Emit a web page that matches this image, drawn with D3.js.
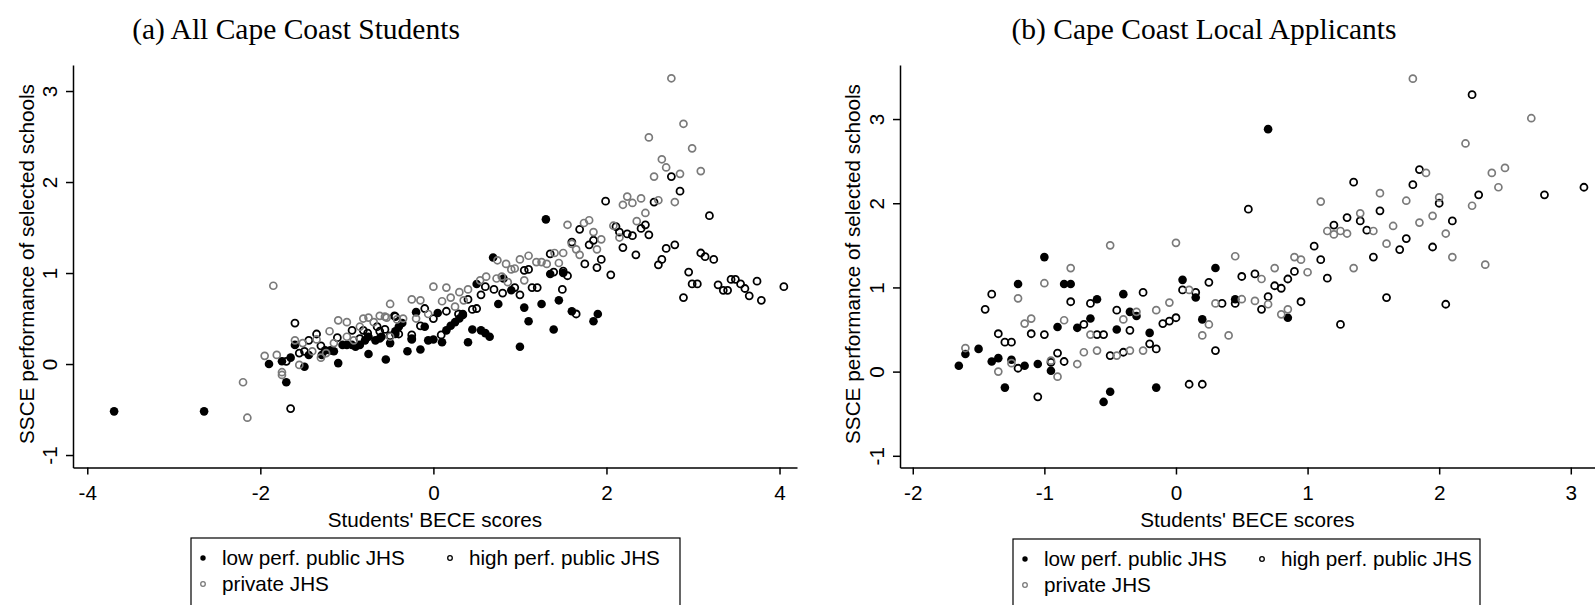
<!DOCTYPE html>
<html><head><meta charset="utf-8">
<script src="https://cdn.jsdelivr.net/npm/d3@7"></script>
<style>body{margin:0;background:#fff}</style>
</head><body>
<svg id="c" width="1595" height="605"></svg>
<script>
// ---------- DATA ----------
const titles = ["(a) All Cape Coast Students", "(b) Cape Coast Local Applicants"];
const xLabel = "Students' BECE scores";
const yLabel = "SSCE performance of selected schools";
const legendLabels = ["low perf. public JHS", "high perf. public JHS", "private JHS"];

const xTicksA = [-4, -2, 0, 2, 4];
const yTicksA = [-1, 0, 1, 2, 3];
const xTicksB = [-2, -1, 0, 1, 2, 3];
const yTicksB = [-1, 0, 1, 2, 3];

// Panel (a): low perf. public JHS
const lowA = [
[-3.69,-0.52],[-2.65,-0.52],[-1.90,0.00],[-1.75,0.03],[-1.70,-0.20],[-1.65,0.07],[-1.60,0.21],
[-1.49,-0.03],[-1.44,0.10],[-1.29,0.10],[-1.25,0.15],[-1.19,0.15],[-1.15,0.14],[-1.10,0.01],
[-1.05,0.21],[-1.00,0.21],[-0.94,0.21],[-0.90,0.19],[-0.85,0.21],[-0.79,0.26],[-0.75,0.30],
[-0.75,0.11],[-0.67,0.26],[-0.62,0.28],[-0.55,0.05],[-0.50,0.23],[-0.44,0.36],[-0.40,0.41],
[1.30,1.59],[0.69,1.17],[1.35,0.99],[1.50,1.00],[0.81,0.94],[0.90,0.81],[0.75,0.66],[1.05,0.62],
[1.25,0.66],[1.45,0.70],[1.10,0.47],[1.39,0.38],[1.00,0.19],[1.85,0.47],[1.90,0.55],[1.60,0.58],
[0.45,0.38],[0.55,0.37],[0.60,0.34],[0.65,0.30],[0.40,0.24],[0.50,0.88],[0.30,0.50],[0.34,0.55],
[0.25,0.46],[0.20,0.42],[0.15,0.37],[0.10,0.24],[0.05,0.56],[0.00,0.27],[-0.06,0.26],[-0.10,0.41],
[-0.15,0.16],[-0.20,0.57],[-0.30,0.14],[-0.25,0.28],[-0.36,0.45],[-0.44,0.33],[-0.60,0.30]
];
// Panel (a): high perf. public JHS
const highA = [
[-1.60,0.45],[-1.65,-0.49],[-1.70,0.03],[-1.55,0.12],[-1.49,0.14],[-1.44,0.26],[-1.35,0.33],
[-1.30,0.20],[-1.11,0.29],[-0.94,0.37],[-0.85,0.28],[-0.81,0.37],[-0.76,0.34],[-0.65,0.41],
[-0.62,0.36],[-0.56,0.38],[-0.44,0.52],
[2.75,2.06],[2.85,1.90],[3.19,1.63],[1.99,1.79],[2.55,1.78],[1.69,1.48],[2.11,1.51],[2.15,1.45],
[2.24,1.43],[2.30,1.41],[2.40,1.49],[2.45,1.53],[2.49,1.42],[1.60,1.34],[1.80,1.31],[1.85,1.36],
[2.19,1.28],[2.34,1.20],[2.79,1.31],[2.69,1.27],[2.64,1.15],[2.60,1.09],[3.09,1.22],[3.14,1.18],
[3.24,1.15],[2.95,1.01],[2.99,0.88],[3.05,0.88],[2.89,0.73],[3.29,0.87],[3.35,0.81],[3.40,0.81],
[3.44,0.93],[3.49,0.93],[3.55,0.88],[3.60,0.83],[3.65,0.75],[3.74,0.91],[3.79,0.70],[4.05,0.85],
[1.75,1.10],[1.94,1.15],[1.89,1.06],[2.05,0.98],[1.35,1.21],[1.39,1.01],[1.50,1.02],[1.55,0.97],
[1.49,0.82],[1.05,1.03],[1.10,1.04],[1.14,0.84],[1.20,0.84],[1.00,0.76],[0.94,0.84],[0.80,0.78],
[0.70,0.82],[0.55,0.76],[0.60,0.85],[0.50,0.61],[0.45,0.60],[0.40,0.71],[0.34,0.54],[0.29,0.55],
[0.15,0.58],[0.09,0.32],[0.00,0.50],[-0.10,0.61],[-0.15,0.42],[-0.25,0.32],[-0.25,0.27],
[-0.40,0.33],[-0.45,0.53],[-0.50,0.31],[1.65,0.55]
];
// Panel (a): private JHS
const privA = [
[-1.85,0.86],[-2.20,-0.20],[-2.15,-0.59],[-1.95,0.09],[-1.81,0.10],[-1.75,-0.09],[-1.75,-0.12],
[-1.60,0.26],[-1.55,-0.01],[-1.51,0.23],[-1.40,0.14],[-1.35,0.27],[-1.24,0.12],[-1.30,0.07],
[-1.20,0.36],[-1.15,0.23],[-1.10,0.48],[-1.00,0.46],[-1.00,0.30],[-0.92,0.26],[-0.85,0.41],
[-0.81,0.50],[-0.75,0.51],[-0.69,0.46],[-0.62,0.53],[-0.54,0.51],[-0.50,0.30],[-0.50,0.66],
[2.75,3.14],[2.89,2.64],[2.49,2.49],[2.99,2.37],[2.64,2.25],[2.69,2.16],[2.55,2.06],[3.09,2.12],
[2.85,2.09],[2.79,1.78],[2.60,1.80],[2.19,1.75],[2.24,1.84],[2.30,1.77],[2.40,1.82],[2.45,1.66],
[2.35,1.57],[1.55,1.53],[1.74,1.55],[1.80,1.58],[1.85,1.45],[1.94,1.37],[1.89,1.26],[2.08,1.52],
[2.15,1.39],[1.60,1.32],[1.65,1.26],[1.69,1.20],[1.10,1.19],[1.00,1.15],[1.19,1.12],[1.25,1.12],
[1.31,1.10],[1.40,1.22],[1.45,1.11],[1.50,1.22],[0.84,1.10],[0.90,1.04],[0.94,1.05],[1.05,0.92],
[0.74,1.14],[0.61,0.96],[0.54,0.92],[0.73,0.94],[0.79,0.96],[0.86,0.90],[0.40,0.82],[0.30,0.79],
[0.20,0.73],[0.15,0.84],[0.00,0.85],[0.35,0.70],[0.25,0.63],[0.10,0.69],[-0.15,0.70],[-0.25,0.71],
[-0.06,0.55],[-0.20,0.50],[-0.35,0.50],[-0.42,0.49],[-0.56,0.52]
];

// Panel (b): low perf. public JHS
const lowB = [
[-1.65,0.07],[-1.60,0.21],[-1.50,0.27],[-1.40,0.12],[-1.35,0.16],[-1.30,-0.19],[-1.25,0.14],
[-1.20,1.04],[-1.15,0.07],[-1.05,0.09],[-1.00,1.36],[-0.95,0.01],[-0.90,0.53],[-0.85,1.04],
[-0.80,1.04],[-0.75,0.52],[-0.65,0.63],[-0.60,0.86],[-0.55,-0.36],[-0.50,-0.24],[-0.45,0.50],
[-0.40,0.92],[-0.35,0.71],[-0.30,0.66],[-0.20,0.46],[-0.15,-0.19],[0.05,1.09],[0.15,0.88],
[0.70,2.88],[0.30,1.23],[0.20,0.62],[0.45,0.86],[0.85,0.64]
];
// Panel (b): high perf. public JHS
const highB = [
[-1.45,0.74],[-1.40,0.92],[-1.35,0.45],[-1.30,0.35],[-1.25,0.35],[-1.20,0.04],[-1.10,0.45],
[-1.05,-0.30],[-1.00,0.44],[-0.95,0.11],[-0.90,0.22],[-0.85,0.12],[-0.80,0.83],[-0.70,0.56],
[-0.65,0.81],[-0.60,0.44],[-0.55,0.44],[-0.50,0.19],[-0.45,0.73],[-0.40,0.23],[-0.35,0.49],
[-0.25,0.94],[-0.20,0.33],[-0.15,0.27],[-0.10,0.57],[-0.05,0.60],[0.00,0.64],[0.05,0.97],
[0.10,-0.15],[0.15,0.94],[2.25,3.29],[1.85,2.40],[1.80,2.22],[1.35,2.25],[0.55,1.93],[2.80,2.10],
[3.10,2.19],[2.30,2.10],[2.00,2.00],[2.10,1.79],[1.95,1.48],[1.75,1.58],[1.70,1.45],[1.50,1.36],
[1.55,1.91],[1.45,1.68],[1.40,1.79],[1.30,1.83],[1.20,1.74],[1.15,1.11],[1.10,1.33],[1.05,1.49],
[0.95,0.83],[0.90,1.19],[0.85,1.10],[0.80,0.99],[0.75,1.02],[0.70,0.89],[0.65,0.74],[0.60,1.16],
[0.50,1.13],[0.45,0.81],[0.35,0.81],[0.25,1.06],[0.30,0.25],[0.20,-0.15],[1.25,0.56],[1.60,0.88],
[2.05,0.80]
];
// Panel (b): private JHS
const privB = [
[-1.60,0.28],[-1.35,0.00],[-1.25,0.10],[-1.20,0.87],[-1.15,0.57],[-1.10,0.63],[-1.00,1.05],
[-0.95,0.13],[-0.90,-0.06],[-0.85,0.61],[-0.80,1.23],[-0.75,0.09],[-0.70,0.23],[-0.65,0.44],
[-0.60,0.25],[-0.50,1.50],[-0.45,0.19],[-0.40,0.62],[-0.35,0.25],[-0.30,0.71],[-0.25,0.25],
[-0.15,0.73],[-0.05,0.82],[0.00,1.53],[0.10,0.97],[0.20,0.43],
[1.80,3.48],[2.70,3.01],[2.20,2.71],[2.50,2.42],[2.40,2.36],[2.45,2.19],[1.90,2.36],[2.00,2.07],
[2.25,1.97],[1.55,2.12],[1.75,2.03],[1.10,2.02],[1.40,1.88],[1.85,1.77],[1.95,1.85],[1.65,1.73],
[1.50,1.67],[1.15,1.67],[1.20,1.63],[1.25,1.67],[1.30,1.64],[2.05,1.64],[1.60,1.52],[2.10,1.36],
[2.35,1.27],[1.35,1.23],[0.90,1.36],[0.95,1.33],[1.00,1.18],[0.45,1.37],[0.75,1.23],[0.65,1.10],
[0.60,0.84],[0.70,0.80],[0.50,0.86],[0.30,0.81],[0.25,0.56],[0.40,0.43],[0.80,0.68],[0.85,0.74]
];

// ---------- DRAWING ----------
const svg = d3.select("#c");
const SANS = "'Liberation Sans', Arial, Helvetica, sans-serif";
const SERIF = "'Liberation Serif', 'Times New Roman', serif";
const GRAY = "#7a7a7a";
const FS = 20.7;

function panel(o) {
  const x = d3.scaleLinear().domain(o.xDomain).range(o.xRange);
  const y = d3.scaleLinear().domain(o.yDomain).range(o.yRange);
  const g = svg.append("g");

  // title
  g.append("text").attr("x", o.titleX).attr("y", 39).attr("text-anchor", "middle")
    .attr("font-family", SERIF).attr("font-size", 29.5).text(o.title);

  // x axis
  const gx = g.append("g").attr("transform", `translate(0,${o.yRange[0]})`)
    .call(d3.axisBottom(x).tickValues(o.xTicks).tickSize(7).tickSizeOuter(0).tickPadding(11).tickFormat(d => String(d)));
  // y axis
  const gy = g.append("g").attr("transform", `translate(${o.xRange[0]},0)`)
    .call(d3.axisLeft(y).tickValues(o.yTicks).tickSize(7).tickSizeOuter(0).tickFormat(d => String(d)));
  [gx, gy].forEach(a => {
    a.attr("font-family", SANS).attr("font-size", FS);
    a.select(".domain").attr("stroke", "#000").attr("stroke-width", 1.5);
    a.selectAll(".tick line").attr("stroke", "#000").attr("stroke-width", 1.5);
    a.selectAll(".tick text").attr("fill", "#000");
  });
  gy.selectAll(".tick text").attr("transform", "rotate(-90)")
    .attr("x", 0).attr("y", -16).attr("dy", 0).attr("text-anchor", "middle");

  // axis titles
  g.append("text").attr("x", (o.xRange[0] + o.xRange[1]) / 2).attr("y", 527)
    .attr("text-anchor", "middle").attr("font-family", SANS).attr("font-size", FS).text(xLabel);
  g.append("text").attr("transform", `translate(${o.yLabelX},264) rotate(-90)`)
    .attr("text-anchor", "middle").attr("font-family", SANS).attr("font-size", FS).text(yLabel);

  // points
  const pts = g.append("g");
  pts.selectAll("circle.low").data(o.low).join("circle").attr("class", "low")
    .attr("cx", d => x(d[0])).attr("cy", d => y(d[1])).attr("r", 4.3).attr("fill", "#000");
  pts.selectAll("circle.high").data(o.high).join("circle").attr("class", "high")
    .attr("cx", d => x(d[0])).attr("cy", d => y(d[1])).attr("r", 3.5)
    .attr("fill", "none").attr("stroke", "#000").attr("stroke-width", 1.8);
  pts.selectAll("circle.priv").data(o.priv).join("circle").attr("class", "priv")
    .attr("cx", d => x(d[0])).attr("cy", d => y(d[1])).attr("r", 3.5)
    .attr("fill", "none").attr("stroke", GRAY).attr("stroke-width", 1.7);

  // legend
  const L = o.legend;
  const lg = g.append("g");
  lg.append("rect").attr("x", L.x).attr("y", L.y).attr("width", L.w).attr("height", 120)
    .attr("fill", "none").attr("stroke", "#000").attr("stroke-width", 1.2);
  const items = [
    {lab: legendLabels[0], mx: L.x + 12, row: 0, type: "low"},
    {lab: legendLabels[1], mx: L.x + L.col2, row: 0, type: "high"},
    {lab: legendLabels[2], mx: L.x + 12, row: 1, type: "priv"}
  ];
  items.forEach(it => {
    const by = L.y + 27 + it.row * 26;
    const c = lg.append("circle").attr("cx", it.mx).attr("cy", by - 7);
    if (it.type === "low") c.attr("r", 2.7).attr("fill", "#000");
    else c.attr("r", 2.3).attr("fill", "none").attr("stroke", it.type === "high" ? "#000" : GRAY).attr("stroke-width", 1.3);
    lg.append("text").attr("x", it.mx + 19).attr("y", by).attr("font-family", SANS)
      .attr("font-size", FS).text(it.lab);
  });
}

panel({
  title: titles[0], titleX: 296,
  xDomain: [-4.165, 4.202], xRange: [73, 797],
  yDomain: [-1.137, 3.286], yRange: [467.5, 65],
  xTicks: xTicksA, yTicks: yTicksA, yLabelX: 34,
  low: lowA, high: highA, priv: privA,
  legend: {x: 191, y: 538, w: 489, col2: 259}
});
panel({
  title: titles[1], titleX: 1204,
  xDomain: [-2.097, 3.184], xRange: [900, 1595],
  yDomain: [-1.139, 3.642], yRange: [467.5, 65],
  xTicks: xTicksB, yTicks: yTicksB, yLabelX: 860,
  low: lowB, high: highB, priv: privB,
  legend: {x: 1013, y: 539, w: 467, col2: 249}
});
</script>
</body></html>
